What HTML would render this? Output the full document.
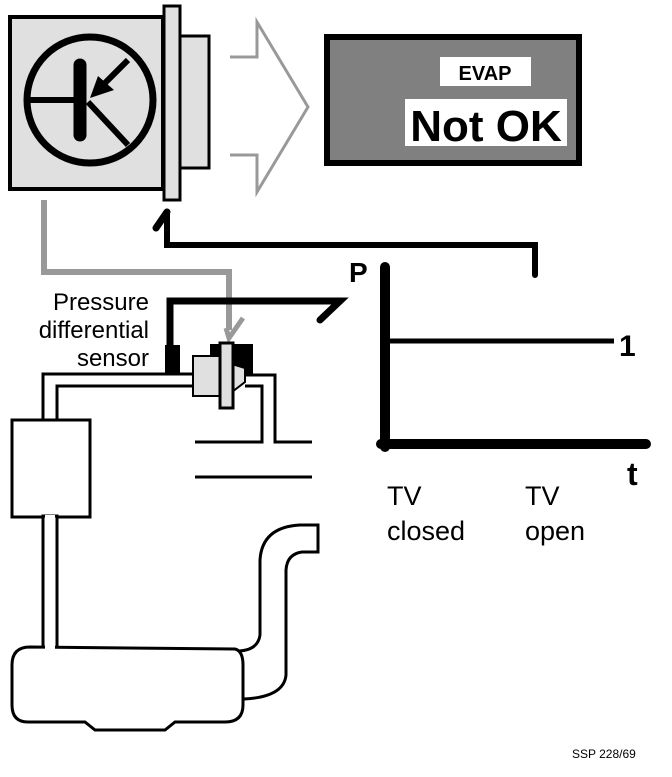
<!DOCTYPE html>
<html><head><style>
body{margin:0;background:#fff;width:672px;height:772px;overflow:hidden}
text{font-family:"Liberation Sans",sans-serif}
</style></head><body>
<svg width="672" height="772" viewBox="0 0 672 772" xmlns="http://www.w3.org/2000/svg">
<!-- control unit -->
<rect x="10" y="17" width="153" height="172" fill="#e0e0e0" stroke="#000" stroke-width="4"/>
<rect x="180" y="36" width="29" height="132" fill="#e0e0e0" stroke="#000" stroke-width="3"/>
<rect x="164" y="6" width="16" height="194" fill="#e0e0e0" stroke="#000" stroke-width="3"/>
<circle cx="90" cy="100" r="63" fill="none" stroke="#000" stroke-width="7"/>
<line x1="80" y1="65" x2="80" y2="135" stroke="#000" stroke-width="13" stroke-linecap="round"/>
<line x1="28" y1="100" x2="80" y2="100" stroke="#000" stroke-width="6"/>
<line x1="128" y1="60" x2="100" y2="88" stroke="#000" stroke-width="6"/>
<polygon points="90,98 98,76 114,90" fill="#000"/>
<line x1="88" y1="102" x2="128" y2="145" stroke="#000" stroke-width="6"/>
<!-- chevron -->
<polyline points="230,57 257,57 257,22 308,107 257,192 257,155 230,155" fill="none" stroke="#999" stroke-width="3"/>
<!-- EVAP box -->
<rect x="327" y="37" width="252" height="126" fill="#808080" stroke="#000" stroke-width="6"/>
<rect x="440" y="57" width="91" height="29" fill="#fff"/>
<rect x="405" y="99" width="162" height="47" fill="#fff"/>
<text x="485" y="80" font-size="20" font-weight="bold" text-anchor="middle">EVAP</text>
<text x="486" y="141" font-size="44" font-weight="bold" text-anchor="middle">Not OK</text>
<!-- feedback line -->
<polyline points="535,275 535,245 167,245 167,212" fill="none" stroke="#000" stroke-width="6" stroke-linecap="round"/>
<line x1="167" y1="212" x2="156" y2="228" stroke="#000" stroke-width="7" stroke-linecap="round"/>
<!-- grey signal line -->
<polyline points="44,200 44,272 229,272 229,330" fill="none" stroke="#999" stroke-width="6"/>
<polyline points="226,328 229,338 243,318" fill="none" stroke="#999" stroke-width="5"/>
<!-- black thick line to P -->
<polyline points="170,350 170,301 340,301 320,320" fill="none" stroke="#000" stroke-width="7" stroke-linecap="round" stroke-linejoin="miter"/>
<text x="149" y="310" font-size="24" text-anchor="end">Pressure</text>
<text x="149" y="338" font-size="24" text-anchor="end">differential</text>
<text x="149" y="366" font-size="24" text-anchor="end">sensor</text>
<!-- pipes -->
<polyline points="43,420 43,374 205,374" fill="none" stroke="#000" stroke-width="3"/>
<polyline points="57,420 57,386 205,386" fill="none" stroke="#000" stroke-width="3"/>
<polyline points="245,375 275,375 275,442 312,442" fill="none" stroke="#000" stroke-width="3"/>
<polyline points="245,386 262,386 262,442 195,442" fill="none" stroke="#000" stroke-width="3"/>
<line x1="195" y1="477" x2="312" y2="477" stroke="#000" stroke-width="3"/>
<rect x="12" y="420" width="78" height="97" fill="#fff" stroke="#000" stroke-width="3"/>
<rect x="43" y="516" width="14" height="133" fill="#fff" stroke="#000" stroke-width="3"/>
<line x1="45" y1="517" x2="55" y2="517" stroke="#fff" stroke-width="4"/>
<!-- hose -->
<path d="M236,651 Q258,651 260,635 L260,560 Q262,527 300,525 L318,525 L318,552 L302,552 Q287,554 286,570 L286,675 Q284,697 244,699" fill="none" stroke="#000" stroke-width="3"/>
<!-- tank -->
<path d="M30,647 L235,649 Q243,651 243,665 L243,705 Q243,722 225,722 L175,722 L165,730 L95,730 L85,722 L28,722 Q12,722 12,705 L12,665 Q12,647 30,647 Z" fill="#fff" stroke="#000" stroke-width="3"/>
<rect x="45" y="640" width="10" height="10" fill="#fff"/>
<!-- sensor -->
<rect x="165" y="345" width="15" height="30" fill="#000"/>
<rect x="210" y="344" width="43" height="32" fill="#000"/>
<rect x="193" y="356" width="27" height="40" fill="#e0e0e0" stroke="#000" stroke-width="2"/>
<polygon points="232,364 245,368 245,382 232,392" fill="#e0e0e0" stroke="#000" stroke-width="2"/>
<rect x="220" y="343" width="13" height="65" fill="#e0e0e0" stroke="#000" stroke-width="3"/>
<!-- graph -->
<line x1="385" y1="267" x2="385" y2="447" stroke="#000" stroke-width="10" stroke-linecap="round"/>
<line x1="381" y1="444" x2="646" y2="444" stroke="#000" stroke-width="10" stroke-linecap="round"/>
<line x1="385" y1="341" x2="614" y2="341" stroke="#000" stroke-width="5"/>
<text x="349" y="282" font-size="28" font-weight="bold">P</text>
<text x="619" y="356" font-size="30" font-weight="bold">1</text>
<text x="627" y="485" font-size="32" font-weight="bold">t</text>
<text x="387" y="505" font-size="27">TV</text>
<text x="387" y="540" font-size="27">closed</text>
<text x="525" y="505" font-size="27">TV</text>
<text x="525" y="540" font-size="27">open</text>
<text x="572" y="758" font-size="12">SSP 228/69</text>
</svg>
</body></html>
